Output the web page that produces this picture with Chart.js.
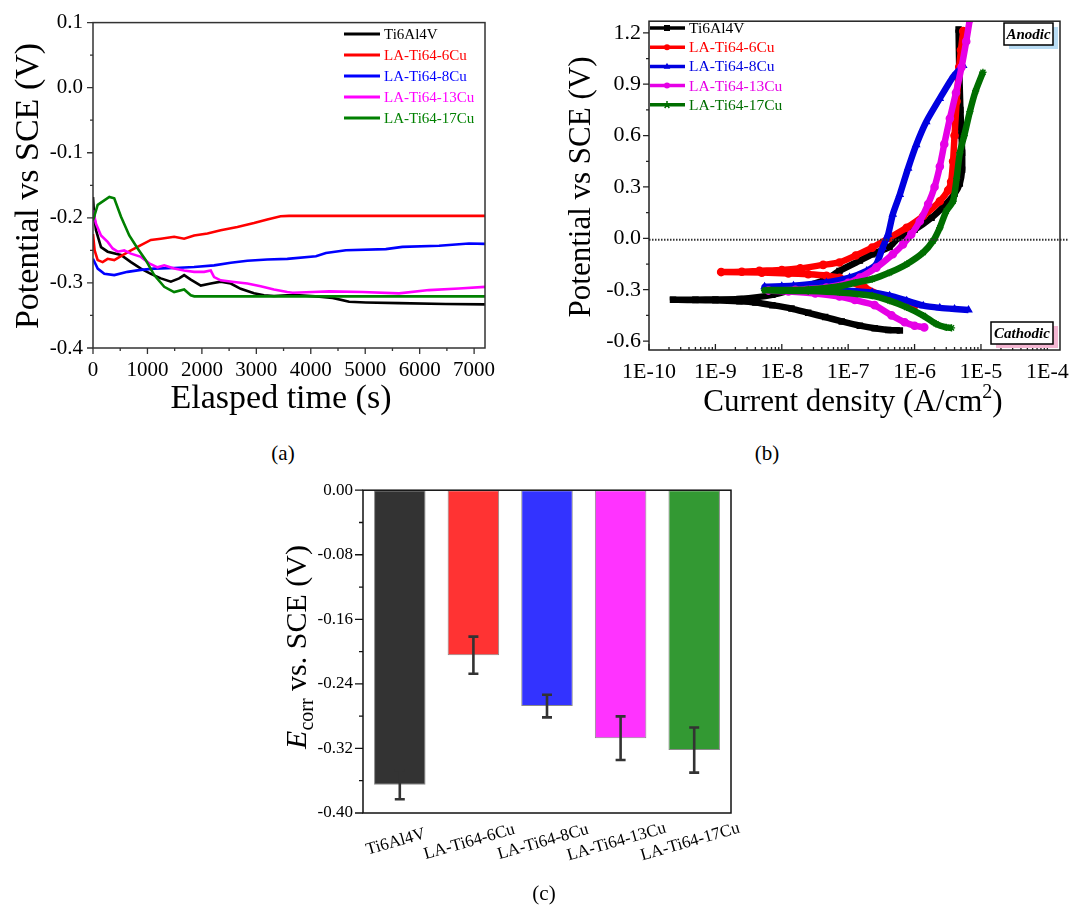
<!DOCTYPE html>
<html>
<head>
<meta charset="utf-8">
<script src="https://cdn.jsdelivr.net/npm/chart.js@4.4.0/dist/chart.umd.min.js"></script>
<style>
  html, body { margin: 0; padding: 0; background: #fff; }
  body { width: 1069px; height: 909px; overflow: hidden; position: relative; font-family: "Liberation Serif", "Times New Roman", serif; }
  canvas { position: absolute; }
  .tag { position: absolute; font-size: 21px; width: 40px; text-align: center; line-height: 1; color: #000; }
</style>
</head>
<body>
<canvas id="ocp" width="507" height="420" style="left:0;top:0"></canvas>
<canvas id="tafel" width="540" height="420" style="left:540px;top:0"></canvas>
<canvas id="ecorr" width="580" height="420" style="left:230px;top:470px"></canvas>
<div class="tag" style="left:263px;top:443px">(a)</div>
<div class="tag" style="left:747px;top:443px">(b)</div>
<div class="tag" style="left:524px;top:883px">(c)</div>
<script>
"use strict";
const SERIF = "'Liberation Serif', 'Times New Roman', serif";

// Samples
const sampleNames = ["Ti6Al4V", "LA-Ti64-6Cu", "LA-Ti64-8Cu", "LA-Ti64-13Cu", "LA-Ti64-17Cu"];
const ocpColors = ["#000000", "#ff0000", "#0000ff", "#ff00ff", "#008000"];
const tafelColors = ["#000000", "#ff0000", "#0000e0", "#e600e6", "#006e00"];
const barColors = ["#333333", "#ff3333", "#3333ff", "#ff33ff", "#339933"];
const tafelMarkers = ["rect", "circle", "triangle", "circle", "star"];

// (a) Open circuit potential vs time
const ocpTimeTicks = [0, 1000, 2000, 3000, 4000, 5000, 6000, 7000];
const ocpPotentialTicks = [-0.4, -0.3, -0.2, -0.1, 0.0, 0.1];
const ti64Time = [0, 20, 55, 147, 269, 513, 697, 880, 1063, 1246, 1430, 1582, 1674, 1796, 1980, 2163, 2346, 2530, 2713, 2957, 3140, 3324, 3568, 3790, 4156, 4400, 4705, 5010, 5622, 6478, 7200];
const ti64Ocp = [-0.168, -0.195, -0.219, -0.245, -0.252, -0.257, -0.268, -0.278, -0.286, -0.293, -0.298, -0.293, -0.288, -0.295, -0.304, -0.301, -0.298, -0.301, -0.309, -0.316, -0.319, -0.32, -0.319, -0.319, -0.321, -0.323, -0.329, -0.33, -0.331, -0.3325, -0.333];
const cu6Time = [0, 30, 86, 177, 269, 391, 513, 697, 880, 1063, 1246, 1491, 1674, 1857, 2102, 2346, 2652, 2957, 3201, 3446, 3600, 7200];
const cu6Ocp = [-0.225, -0.25, -0.265, -0.268, -0.263, -0.265, -0.259, -0.25, -0.242, -0.234, -0.232, -0.229, -0.232, -0.227, -0.224, -0.219, -0.214, -0.208, -0.2025, -0.1975, -0.197, -0.197];
const cu8Time = [0, 86, 208, 391, 635, 880, 1124, 1491, 1857, 2224, 2530, 2835, 3201, 3568, 4095, 4278, 4645, 5378, 5683, 6356, 6906, 7200];
const cu8Ocp = [-0.263, -0.278, -0.286, -0.288, -0.283, -0.28, -0.278, -0.277, -0.2755, -0.273, -0.269, -0.266, -0.264, -0.263, -0.259, -0.254, -0.2497, -0.248, -0.2446, -0.243, -0.2395, -0.24];
const cu13Time = [0, 55, 147, 269, 361, 452, 574, 697, 880, 1033, 1185, 1308, 1491, 1674, 1857, 2041, 2163, 2224, 2346, 2591, 2835, 3079, 3324, 3568, 3667, 4033, 4339, 4950, 5622, 6172, 6722, 7200];
const cu13Ocp = [-0.188, -0.209, -0.227, -0.237, -0.247, -0.252, -0.25, -0.255, -0.26, -0.27, -0.276, -0.273, -0.278, -0.281, -0.283, -0.283, -0.281, -0.291, -0.296, -0.2985, -0.301, -0.305, -0.31, -0.314, -0.315, -0.314, -0.313, -0.314, -0.316, -0.311, -0.3085, -0.306];
const cu17Time = [0, 86, 300, 390, 513, 666, 820, 970, 1124, 1308, 1490, 1674, 1796, 1860, 7200];
const cu17Ocp = [-0.204, -0.18, -0.168, -0.17, -0.198, -0.227, -0.247, -0.265, -0.288, -0.306, -0.314, -0.31, -0.319, -0.3206, -0.3206];

// (b) Potentiodynamic polarization (cathodic end -> Ecorr -> anodic end)
const currentTicks = [1e-10, 1e-9, 1e-8, 1e-7, 1e-6, 1e-5, 1e-4];
const tafelPotentialTicks = [-0.6, -0.3, 0.0, 0.3, 0.6, 0.9, 1.2];
const refPotential = -0.008;
const ti64Current = [6.0e-7, 4.0e-7, 2.5e-7, 1.5e-7, 8.0e-8, 4.5e-8, 2.5e-8, 1.4e-8, 7.2e-9, 4.0e-9, 2.3e-9, 1.0e-9, 5.0e-10, 2.3e-10, 5.0e-10, 1.0e-9, 2.3e-9, 7.2e-9, 1.9e-8, 4.2e-8, 7.4e-8, 1.5e-7, 2.3e-7, 4.2e-7, 5.6e-7, 1.0e-6, 1.8e-6, 2.8e-6, 4.0e-6, 4.8e-6, 5.2e-6, 5.2e-6, 5.1e-6, 4.9e-6, 4.7e-6, 4.6e-6];
const ti64Potential = [-0.538, -0.535, -0.525, -0.51, -0.485, -0.46, -0.435, -0.41, -0.39, -0.375, -0.368, -0.362, -0.36, -0.358, -0.358, -0.357, -0.354, -0.33, -0.287, -0.248, -0.19, -0.13, -0.093, -0.05, 0.0, 0.05, 0.12, 0.19, 0.26, 0.32, 0.4, 0.5, 0.6, 0.75, 1.0, 1.22];
const cu6Current = [1.0e-6, 7.6e-7, 5.0e-7, 3.2e-7, 1.8e-7, 1.0e-7, 7.4e-8, 4.7e-8, 2.5e-8, 1.26e-8, 5.0e-9, 1.22e-9, 2.5e-9, 4.6e-9, 1.0e-8, 1.9e-8, 4.2e-8, 7.4e-8, 1.3e-7, 2.3e-7, 4.2e-7, 7.6e-7, 1.35e-6, 2.4e-6, 3.2e-6, 3.55e-6, 3.8e-6, 4.0e-6, 4.3e-6, 4.7e-6, 5.0e-6, 5.4e-6];
const cu6Potential = [-0.392, -0.385, -0.365, -0.335, -0.29, -0.25, -0.23, -0.218, -0.21, -0.205, -0.2, -0.197, -0.195, -0.19, -0.185, -0.175, -0.155, -0.141, -0.1, -0.054, 0.004, 0.062, 0.13, 0.217, 0.28, 0.33, 0.45, 0.6, 0.8, 1.0, 1.1, 1.21];
const cu8Current = [6.5e-6, 4.0e-6, 2.4e-6, 1.35e-6, 7.6e-7, 4.2e-7, 2.3e-7, 7.4e-8, 2.5e-8, 1.0e-8, 5.5e-9, 1.0e-8, 1.5e-8, 4.7e-8, 1.05e-7, 1.9e-7, 2.65e-7, 3.3e-7, 4.0e-7, 4.7e-7, 6.0e-7, 8.0e-7, 1.06e-6, 1.5e-6, 2.4e-6, 3.8e-6, 5.4e-6];
const cu8Potential = [-0.418, -0.413, -0.406, -0.393, -0.364, -0.335, -0.316, -0.302, -0.292, -0.287, -0.283, -0.28, -0.277, -0.258, -0.229, -0.19, -0.151, -0.054, 0.023, 0.14, 0.256, 0.41, 0.546, 0.681, 0.817, 0.943, 1.01];
const cu13Current = [1.4e-6, 1.0e-6, 7.1e-7, 4.5e-7, 2.5e-7, 1.26e-7, 7.4e-8, 3.2e-8, 1.26e-8, 6.3e-9, 1.6e-8, 4.7e-8, 1.0e-7, 1.5e-7, 2.65e-7, 4.7e-7, 6.7e-7, 8.9e-7, 1.2e-6, 1.6e-6, 2.0e-6, 2.4e-6, 2.8e-6, 3.4e-6, 4.2e-6, 5.1e-6, 6.0e-6, 6.8e-6];
const cu13Potential = [-0.52, -0.51, -0.49, -0.45, -0.39, -0.36, -0.34, -0.322, -0.31, -0.305, -0.3, -0.287, -0.26, -0.229, -0.171, -0.093, -0.035, 0.023, 0.1, 0.2, 0.3, 0.42, 0.55, 0.7, 0.85, 1.0, 1.15, 1.28];
const cu17Current = [3.6e-6, 3.0e-6, 2.1e-6, 1.35e-6, 7.6e-7, 4.2e-7, 2.3e-7, 7.4e-8, 2.5e-8, 5.5e-9, 2.5e-8, 7.4e-8, 1.3e-7, 2.3e-7, 4.2e-7, 7.6e-7, 1.35e-6, 1.9e-6, 2.4e-6, 3.0e-6, 3.8e-6, 4.3e-6, 4.8e-6, 5.6e-6, 6.8e-6, 8.3e-6, 1.07e-5];
const cu17Potential = [-0.523, -0.52, -0.499, -0.451, -0.403, -0.364, -0.335, -0.316, -0.308, -0.303, -0.298, -0.28, -0.258, -0.238, -0.2, -0.151, -0.083, -0.015, 0.062, 0.159, 0.217, 0.35, 0.5, 0.6, 0.74, 0.86, 0.97];

// (c) Corrosion potential
const ecorrTicks = [-0.40, -0.32, -0.24, -0.16, -0.08, 0.00];
const ecorrMean = [-0.365, -0.2045, -0.2675, -0.3073, -0.322];
const ecorrError = [0.018, 0.023, 0.014, 0.027, 0.028];

const ocpTimes = [ti64Time, cu6Time, cu8Time, cu13Time, cu17Time];
const ocpValues = [ti64Ocp, cu6Ocp, cu8Ocp, cu13Ocp, cu17Ocp];
const tafelCurrents = [ti64Current, cu6Current, cu8Current, cu13Current, cu17Current];
const tafelPotentials = [ti64Potential, cu6Potential, cu8Potential, cu13Potential, cu17Potential];

// Helpers
function drawRich(ctx, parts, x, y, angle) {
    ctx.save();
    ctx.translate(x, y);
    ctx.rotate(angle);
    let total = 0;
    parts.forEach(function (p) { ctx.font = p.font; total += ctx.measureText(p.text).width; });
    let cx = -total / 2;
    ctx.textAlign = "left";
    ctx.textBaseline = "alphabetic";
    ctx.fillStyle = "#000";
    parts.forEach(function (p) {
        ctx.font = p.font;
        ctx.fillText(p.text, cx, p.dy || 0);
        cx += ctx.measureText(p.text).width;
    });
    ctx.restore();
}

function drawMarker(ctx, style, x, y, r, color) {
    ctx.save();
    ctx.fillStyle = color;
    ctx.strokeStyle = color;
    ctx.lineWidth = 1.5;
    ctx.beginPath();
    if (style === "rect") {
        ctx.rect(x - r, y - r, 2 * r, 2 * r);
        ctx.fill();
    } else if (style === "circle") {
        ctx.arc(x, y, r, 0, Math.PI * 2);
        ctx.fill();
    } else if (style === "triangle") {
        ctx.moveTo(x, y - r * 1.2);
        ctx.lineTo(x + r * 1.1, y + r * 0.8);
        ctx.lineTo(x - r * 1.1, y + r * 0.8);
        ctx.closePath();
        ctx.fill();
    } else {
        for (let k = 0; k < 5; k++) {
            const a = -Math.PI / 2 + k * Math.PI * 2 / 5;
            ctx.moveTo(x, y);
            ctx.lineTo(x + Math.cos(a) * r * 1.3, y + Math.sin(a) * r * 1.3);
        }
        ctx.stroke();
    }
    ctx.restore();
}

// Frame and ticks plugin
function framePlugin(cfg) {
    return {
        id: "frame",
        afterDraw: function (chart) {
            const ctx = chart.ctx;
            const a = chart.chartArea;
            const xs = chart.scales.x;
            const ys = chart.scales.y;
            ctx.save();
            ctx.strokeStyle = cfg.color;
            ctx.lineWidth = cfg.width;
            ctx.strokeRect(a.left, a.top, a.right - a.left, a.bottom - a.top);
            ctx.lineWidth = cfg.tickWidth;
            ctx.beginPath();
            function xTicks(vals, len) {
                vals.forEach(function (v) {
                    const px = xs.getPixelForValue(v);
                    if (px < a.left - 0.5 || px > a.right + 0.5) return;
                    ctx.moveTo(px, a.bottom);
                    ctx.lineTo(px, a.bottom + (cfg.xInward ? -len : len));
                });
            }
            function yTicks(vals, len) {
                vals.forEach(function (v) {
                    const py = ys.getPixelForValue(v);
                    if (py < a.top - 0.5 || py > a.bottom + 0.5) return;
                    ctx.moveTo(a.left, py);
                    ctx.lineTo(a.left - len, py);
                });
            }
            xTicks(cfg.xMajor, cfg.majorLen);
            xTicks(cfg.xMinor, cfg.minorLen);
            yTicks(cfg.yMajor, cfg.majorLen);
            yTicks(cfg.yMinor, cfg.minorLen);
            ctx.stroke();
            ctx.restore();
        }
    };
}

function midpoints(list) {
    const out = [];
    for (let k = 0; k < list.length - 1; k++) out.push((list[k] + list[k + 1]) / 2);
    out.push(list[list.length - 1] + (list[1] - list[0]) / 2);
    return out;
}

const tickFont = function (size) { return { family: SERIF, size: size }; };

// ---------- (a) OCP ----------
const ocpChart = new Chart(document.getElementById("ocp"), {
    type: "line",
    data: {
        datasets: sampleNames.map(function (name, k) {
            return {
                label: name,
                data: ocpTimes[k].map(function (t, j) { return { x: t, y: ocpValues[k][j] }; }),
                borderColor: ocpColors[k],
                borderWidth: 2.6,
                pointRadius: 0,
                tension: 0,
                order: 5 - k
            };
        })
    },
    options: {
        responsive: false,
        animation: false,
        events: [],
        layout: { padding: { top: 22, right: 22, left: 0, bottom: 0 } },
        scales: {
            x: {
                type: "linear", min: 0, max: 7200,
                afterBuildTicks: function (s) { s.ticks = ocpTimeTicks.map(function (v) { return { value: v }; }); },
                afterFit: function (s) { s.height = 72; },
                grid: { display: false, drawTicks: false },
                border: { display: false },
                ticks: { autoSkip: false, maxRotation: 0, padding: 10, color: "#000", font: tickFont(21), callback: function (v) { return String(v); } }
            },
            y: {
                type: "linear", min: -0.4, max: 0.1,
                afterBuildTicks: function (s) { s.ticks = ocpPotentialTicks.map(function (v) { return { value: v }; }); },
                afterFit: function (s) { s.width = 93; },
                grid: { display: false, drawTicks: false },
                border: { display: false },
                ticks: { autoSkip: false, padding: 10, color: "#000", font: tickFont(21), callback: function (v) { return v.toFixed(1); } }
            }
        },
        plugins: { legend: { display: false }, tooltip: { enabled: false } }
    },
    plugins: [
        framePlugin({ color: "#333", width: 1.5, tickWidth: 1.3, majorLen: 6, minorLen: 3, xInward: false,
            xMajor: ocpTimeTicks, xMinor: midpoints(ocpTimeTicks), yMajor: ocpPotentialTicks, yMinor: midpoints(ocpPotentialTicks) }),
        {
            id: "ocpDecor",
            afterDraw: function (chart) {
                const ctx = chart.ctx;
                drawRich(ctx, [{ text: "Potential vs SCE (V)", font: "34px " + SERIF }], 38, 186, -Math.PI / 2);
                drawRich(ctx, [{ text: "Elasped time (s)", font: "34px " + SERIF }], 281, 408, 0);
                // Legend
                ctx.save();
                ctx.font = "15px " + SERIF;
                ctx.textBaseline = "middle";
                chart.data.datasets.forEach(function (ds, k) {
                    const y = 34 + k * 21;
                    ctx.strokeStyle = ds.borderColor;
                    ctx.lineWidth = 3;
                    ctx.beginPath();
                    ctx.moveTo(344, y);
                    ctx.lineTo(380, y);
                    ctx.stroke();
                    ctx.fillStyle = ds.borderColor;
                    ctx.fillText(ds.label, 384, y + 1);
                });
                ctx.restore();
            }
        }
    ]
});

// ---------- (b) Tafel ----------
const minorCurrents = [];
currentTicks.forEach(function (d) { for (let m = 2; m <= 9; m++) minorCurrents.push(d * m); });

const tafelChart = new Chart(document.getElementById("tafel"), {
    type: "line",
    data: {
        datasets: sampleNames.map(function (name, k) {
            return {
                label: name,
                data: tafelCurrents[k].map(function (c, j) { return { x: c, y: tafelPotentials[k][j] }; }),
                borderColor: tafelColors[k],
                backgroundColor: tafelColors[k],
                borderWidth: 6.5,
                pointStyle: tafelMarkers[k],
                pointRadius: 3.6,
                pointBorderWidth: 1.4,
                tension: 0.2,
                order: 5 - k
            };
        })
    },
    options: {
        responsive: false,
        animation: false,
        events: [],
        layout: { padding: { top: 19, right: 20, left: 0, bottom: 0 } },
        scales: {
            x: {
                type: "logarithmic", min: 1e-10, max: 1.55e-4,
                afterBuildTicks: function (s) { s.ticks = currentTicks.map(function (v) { return { value: v }; }); },
                afterFit: function (s) { s.height = 70; },
                grid: { display: false, drawTicks: false },
                border: { display: false },
                ticks: { autoSkip: false, maxRotation: 0, padding: 9, color: "#000", font: tickFont(22),
                    callback: function (v) { return "1E" + Math.round(Math.log10(v)); } }
            },
            y: {
                type: "linear", min: -0.652, max: 1.268,
                afterBuildTicks: function (s) { s.ticks = tafelPotentialTicks.map(function (v) { return { value: v }; }); },
                afterFit: function (s) { s.width = 109; },
                grid: { display: false, drawTicks: false },
                border: { display: false },
                ticks: { autoSkip: false, padding: 8, color: "#000", font: tickFont(22), callback: function (v) { return v.toFixed(1); } }
            }
        },
        plugins: { legend: { display: false }, tooltip: { enabled: false } }
    },
    plugins: [
        {
            id: "zeroLine",
            afterDatasetsDraw: function (chart) {
                const ctx = chart.ctx;
                const a = chart.chartArea;
                const py = chart.scales.y.getPixelForValue(refPotential);
                ctx.save();
                ctx.strokeStyle = "#333";
                ctx.lineWidth = 2;
                ctx.setLineDash([1.5, 1.5]);
                ctx.beginPath();
                ctx.moveTo(a.left, py);
                ctx.lineTo(a.right + 9, py);
                ctx.stroke();
                ctx.restore();
            }
        },
        framePlugin({ color: "#222", width: 1.5, tickWidth: 1.3, majorLen: 6, minorLen: 3, xInward: true,
            xMajor: currentTicks, xMinor: minorCurrents, yMajor: tafelPotentialTicks, yMinor: midpoints(tafelPotentialTicks) }),
        {
            id: "tafelDecor",
            afterDraw: function (chart) {
                const ctx = chart.ctx;
                drawRich(ctx, [{ text: "Potential vs SCE (V)", font: "31px " + SERIF }], 50, 187, -Math.PI / 2);
                drawRich(ctx, [
                    { text: "Current density (A/cm", font: "31px " + SERIF },
                    { text: "2", font: "20px " + SERIF, dy: -13 },
                    { text: ")", font: "31px " + SERIF }
                ], 313, 411, 0);
                // Legend
                ctx.save();
                ctx.font = "15.5px " + SERIF;
                ctx.textBaseline = "middle";
                chart.data.datasets.forEach(function (ds, k) {
                    const y = 28 + k * 19.2;
                    ctx.strokeStyle = ds.borderColor;
                    ctx.lineWidth = 3.5;
                    ctx.beginPath();
                    ctx.moveTo(110, y);
                    ctx.lineTo(145, y);
                    ctx.stroke();
                    drawMarker(ctx, tafelMarkers[k], 127, y, 3, ds.borderColor);
                    ctx.fillStyle = ds.borderColor;
                    ctx.fillText(ds.label, 149, y + 1);
                });
                // Anodic / Cathodic tags
                function tag(text, x0, y0, w, h, shade) {
                    ctx.fillStyle = shade;
                    ctx.fillRect(x0 + 5, y0 + 4, w, h);
                    ctx.fillStyle = "#fff";
                    ctx.fillRect(x0, y0, w, h);
                    ctx.strokeStyle = "#000";
                    ctx.lineWidth = 1.5;
                    ctx.strokeRect(x0, y0, w, h);
                    ctx.fillStyle = "#000";
                    ctx.font = "bold italic 15px " + SERIF;
                    ctx.textAlign = "center";
                    ctx.fillText(text, x0 + w / 2, y0 + h / 2 + 1);
                    ctx.textAlign = "left";
                }
                tag("Anodic", 464, 23, 49, 22, "#b8dcf4");
                tag("Cathodic", 451, 322, 62, 22, "#f4b6d2");
                ctx.restore();
            }
        }
    ]
});

// ---------- (c) Ecorr bars ----------
const ecorrChart = new Chart(document.getElementById("ecorr"), {
    type: "bar",
    data: {
        labels: sampleNames,
        datasets: [{
            data: ecorrMean,
            backgroundColor: barColors,
            borderColor: "#8a8a8a",
            borderWidth: 1,
            borderSkipped: false,
            barPercentage: 0.7,
            categoryPercentage: 1.0
        }]
    },
    options: {
        responsive: false,
        animation: false,
        events: [],
        layout: { padding: { top: 15, right: 79, left: 0, bottom: 0 } },
        scales: {
            x: {
                type: "category",
                afterFit: function (s) { s.height = 77; },
                grid: { display: false, drawTicks: false },
                border: { display: false },
                ticks: { display: false }
            },
            y: {
                type: "linear", min: -0.4, max: 0,
                afterBuildTicks: function (s) { s.ticks = ecorrTicks.map(function (v) { return { value: v }; }); },
                afterFit: function (s) { s.width = 133; },
                grid: { display: false, drawTicks: false },
                border: { display: false },
                ticks: { autoSkip: false, padding: 10, color: "#000", font: tickFont(17), callback: function (v) { return v.toFixed(2); } }
            }
        },
        plugins: { legend: { display: false }, tooltip: { enabled: false } }
    },
    plugins: [
        {
            id: "errorBars",
            afterDatasetsDraw: function (chart) {
                const ctx = chart.ctx;
                const xs = chart.scales.x;
                const ys = chart.scales.y;
                ctx.save();
                ctx.strokeStyle = "#333";
                ctx.lineWidth = 2.6;
                ecorrMean.forEach(function (v, k) {
                    const px = xs.getPixelForValue(k);
                    const top = ys.getPixelForValue(v + ecorrError[k]);
                    const bot = ys.getPixelForValue(v - ecorrError[k]);
                    ctx.beginPath();
                    ctx.moveTo(px, top); ctx.lineTo(px, bot);
                    ctx.moveTo(px - 5, top); ctx.lineTo(px + 5, top);
                    ctx.moveTo(px - 5, bot); ctx.lineTo(px + 5, bot);
                    ctx.stroke();
                });
                ctx.restore();
            }
        },
        framePlugin({ color: "#111", width: 1.5, tickWidth: 1.3, majorLen: 8, minorLen: 4, xInward: false,
            xMajor: [], xMinor: [], yMajor: ecorrTicks, yMinor: midpoints(ecorrTicks).slice(0, -1) }),
        {
            id: "ecorrDecor",
            afterDraw: function (chart) {
                const ctx = chart.ctx;
                const a = chart.chartArea;
                const xs = chart.scales.x;
                // Category labels, rotated
                ctx.save();
                ctx.font = "17px " + SERIF;
                ctx.fillStyle = "#000";
                ctx.textAlign = "center";
                ctx.textBaseline = "middle";
                chart.data.labels.forEach(function (lab, k) {
                    ctx.save();
                    ctx.translate(xs.getPixelForValue(k) - 4, a.bottom + 29);
                    ctx.rotate(-16 * Math.PI / 180);
                    ctx.fillText(lab, 0, 0);
                    ctx.restore();
                });
                ctx.restore();
                drawRich(ctx, [
                    { text: "E", font: "italic 30px " + SERIF },
                    { text: "corr", font: "20px " + SERIF, dy: 7 },
                    { text: " vs. SCE (V)", font: "30px " + SERIF }
                ], 76, 177, -Math.PI / 2);
            }
        }
    ]
});
</script>
</body>
</html>
